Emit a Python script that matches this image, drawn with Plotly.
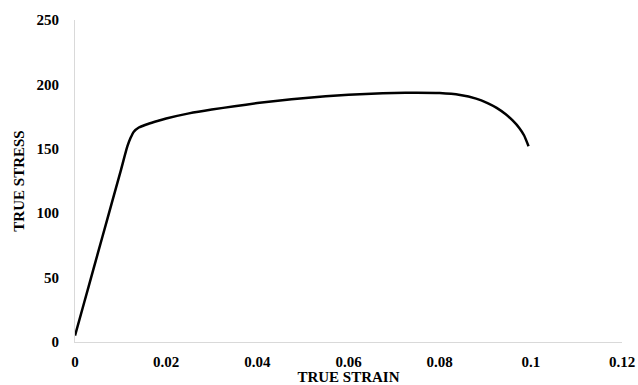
import plotly.graph_objects as go

strain = [0, 0.002, 0.004, 0.006, 0.008, 0.010, 0.0115, 0.0122, 0.0129, 0.0140,
          0.0155, 0.0175, 0.020, 0.025, 0.030, 0.035, 0.040, 0.045, 0.050, 0.055,
          0.060, 0.065, 0.070, 0.075, 0.080, 0.0845, 0.088, 0.0905, 0.0925, 0.0945,
          0.0960, 0.0975, 0.0985, 0.0995]
stress = [5, 30.5, 56, 81.5, 107, 132.5, 152, 158.5, 163.3, 166.5,
          168.7, 171, 173.5, 177.5, 180.5, 183, 185.5, 187.5, 189.3, 190.8,
          192, 192.8, 193.4, 193.6, 193.3, 191.8, 189, 185.5, 181.8, 176.8,
          172, 166, 160.5, 152]

x_ticks = [0, 0.02, 0.04, 0.06, 0.08, 0.1, 0.12]
x_labels = ["0", "0.02", "0.04", "0.06", "0.08", "0.1", "0.12"]
y_ticks = [0, 50, 100, 150, 200, 250]
y_labels = ["0", "50", "100", "150", "200", "250"]

FONT = "Liberation Serif, Times New Roman, serif"

fig = go.Figure(go.Scatter(
    x=strain, y=stress, mode="lines",
    line=dict(color="black", width=2.5, shape="spline", smoothing=0.6),
    hoverinfo="skip",
))

fig.update_layout(
    width=638, height=385,
    margin=dict(l=75, r=16, t=20, b=43),
    paper_bgcolor="white", plot_bgcolor="white",
    showlegend=False,
    font=dict(family=FONT, color="black"),
)
fig.update_xaxes(
    automargin=False,
    range=[0, 0.12], tickvals=x_ticks, ticktext=x_labels,
    showgrid=False, zeroline=False,
    showline=True, linecolor="#d9d9d9", linewidth=1.2,
    ticks="outside", ticklen=6, tickcolor="rgba(0,0,0,0)",
    tickfont=dict(family=FONT, size=15, weight="bold", color="black"),
    title=dict(text="TRUE STRAIN", font=dict(family=FONT, size=15, weight="bold", color="black"),
               standoff=7),
)
fig.update_yaxes(
    automargin=False,
    range=[0, 250], tickvals=y_ticks, ticktext=y_labels,
    showgrid=False, zeroline=False,
    showline=True, linecolor="#d9d9d9", linewidth=1.2,
    ticks="outside", ticklen=12, tickcolor="rgba(0,0,0,0)",
    tickfont=dict(family=FONT, size=15, weight="bold", color="black"),
    title=dict(text="TRUE STRESS", font=dict(family=FONT, size=15, weight="bold", color="black"),
               standoff=8),
)

fig.write_html("out.html", config={"displayModeBar": False},
               post_script="document.body.style.margin='0';document.body.style.overflow='hidden';")
